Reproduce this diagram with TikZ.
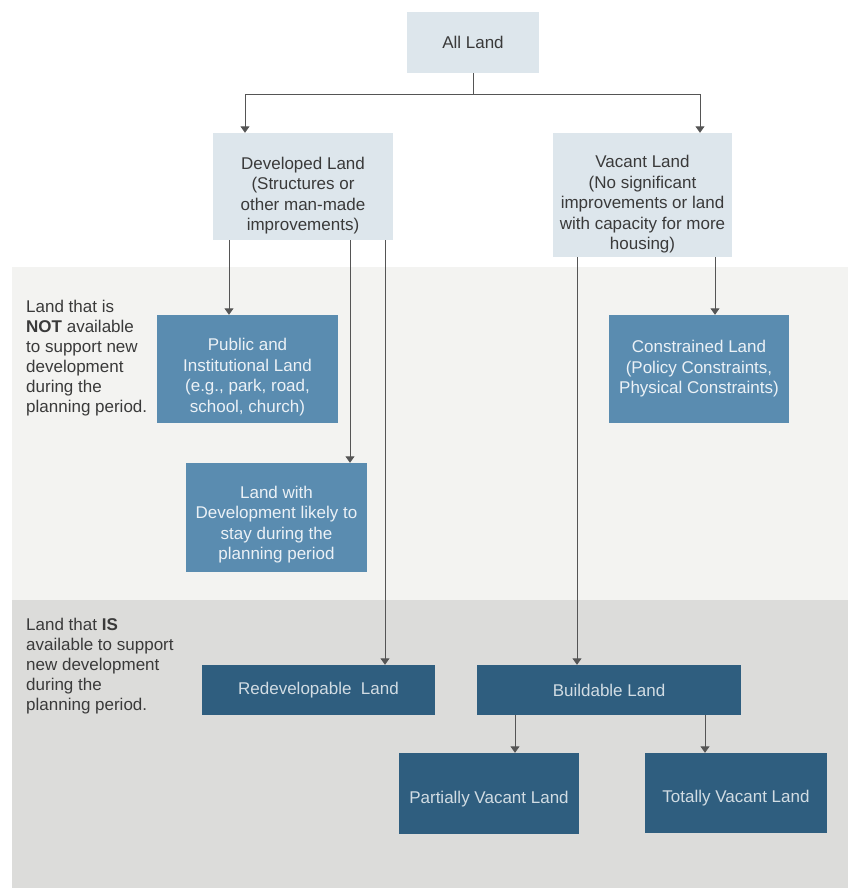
\documentclass[tikz,border=0pt]{standalone}
\usepackage{fontspec}
\setmainfont{Liberation Sans}
\usetikzlibrary{arrows.meta}

\definecolor{paleblue}{HTML}{DDE6EC}
\definecolor{midblue}{HTML}{5A8CB0}
\definecolor{darkblue}{HTML}{2F5E7F}
\definecolor{upperband}{HTML}{F3F3F1}
\definecolor{lowerband}{HTML}{DCDCDA}
\definecolor{inktext}{HTML}{3A3A3A}
\definecolor{linegray}{HTML}{555555}

\tikzset{
  box/.style={rectangle, inner sep=0pt, align=center, font=\fontsize{17}{20.5}\selectfont},
  lightbox/.style={box, fill=paleblue, text=inktext},
  midbox/.style={box, fill=midblue, text=white!88!midblue},
  darkbox/.style={box, fill=darkblue, text=white!78!darkblue},
  note/.style={inner sep=0pt, anchor=north west, align=left, text=inktext, font=\fontsize{17}{20}\selectfont},
  link/.style={draw=linegray, line width=1pt},
  arr/.style={link, -{Triangle[width=9pt,length=6.5pt]}}
}

\begin{document}
\begin{tikzpicture}[x=1pt, y=-1pt]

  \useasboundingbox (0,0) rectangle (848,890);

  % background bands
  \fill[upperband] (12,267) rectangle (848,600);
  \fill[lowerband] (12,600) rectangle (848,888);

  \node[note] (notnote) at (26,300) {Land that is\\\textbf{NOT} available\\to support new\\development\\during the\\planning period.};
  \node[note] (isnote) at (26,618) {Land that \textbf{IS}\\available to support\\new development\\during the\\planning period.};

  \node[lightbox, minimum width=132pt, minimum height=61pt] (all) at (473,42.5) {All Land};
  \node[lightbox, minimum width=180pt, minimum height=107pt, text height=92pt] (dev) at (303,186.5) {Developed Land\\(Structures or\\other man-made\\improvements)};
  \node[lightbox, minimum width=179pt, minimum height=124pt, text height=113pt] (vac) at (642.5,195) {Vacant Land\\(No significant\\improvements or land\\with capacity for more\\housing)};

  \node[midbox, minimum width=181pt, minimum height=108pt, text height=90pt] (pub) at (247.5,369) {Public and\\Institutional Land\\(e.g., park, road,\\school, church)};
  \node[midbox, minimum width=181pt, minimum height=109pt, text height=88pt] (stay) at (276.5,517.5) {Land with\\Development likely to\\stay during the\\planning period};
  \node[midbox, minimum width=180pt, minimum height=108pt] (con) at (699,369) {Constrained Land\\(Policy Constraints,\\Physical Constraints)};

  \node[darkbox, minimum width=233pt, minimum height=50pt] (redev) at (318.5,690) {Redevelopable\ \ Land};
  \node[darkbox, minimum width=264pt, minimum height=50pt] (build) at (609,690) {Buildable Land};
  \node[darkbox, minimum width=180pt, minimum height=81pt, text height=23.5pt] (part) at (489,793.5) {Partially Vacant Land};
  \node[darkbox, minimum width=182pt, minimum height=80pt, text height=23.5pt] (tot) at (736,793) {Totally Vacant Land};

  % split below All Land
  \coordinate (split) at (all.south |- 0,95);
  \draw[link] (all.south) -- (split);
  \draw[arr] (split) -| (dev.north -| 245,0);
  \draw[arr] (split) -| (vac.north -| 700,0);

  \foreach \s/\t/\x in {dev/pub/229, dev/stay/350, dev/redev/385, vac/con/715, vac/build/577, build/part/515, build/tot/705} {
    \draw[arr] (\s.south -| \x,0) -- (\t.north -| \x,0);
  }

\end{tikzpicture}
\end{document}
